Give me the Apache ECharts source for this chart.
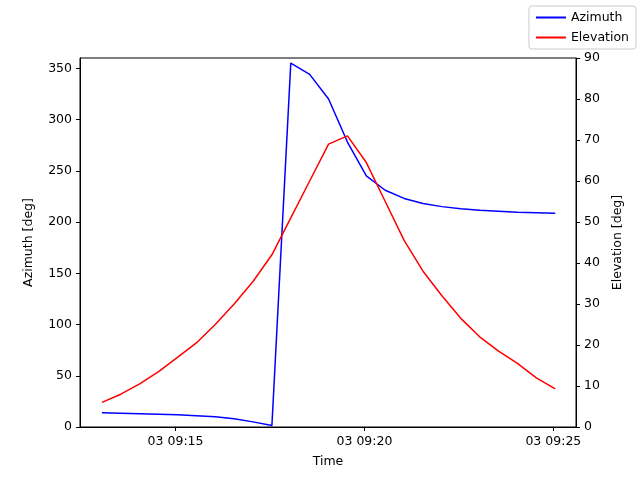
<!DOCTYPE html><html><head><meta charset="utf-8"><script src="https://cdn.jsdelivr.net/npm/echarts@6/dist/echarts.min.js"></script></head><body style="margin:0"><div id="c" style="width:640px;height:480px"></div><script>
// minutes after 09:00
const times=[];for(let i=0;i<25;i++)times.push(13.05+i*0.5);
const azimuth=[14,13.5,13,12.5,12,11,10,8,5,1.5,355,344,320,278,245,231,223,218,215,213,211.5,210.5,209.5,209,208.5];
const elevation=[6,8,10.5,13.5,17,20.5,25,30,35.5,42,51,60,69,71,64.5,55,45.5,38,32,26.5,22,18.5,15.5,12,9.3];
const tickMinutes=[15,20,25];
const ch=echarts.init(document.getElementById('c'));
const f={fontFamily:'DejaVu Sans',fontSize:12.5,color:'#000'};
const ax={axisLine:{show:true,lineStyle:{color:'#000'}},axisTick:{show:true,length:4,lineStyle:{color:'#000'}},splitLine:{show:false},axisLabel:f,nameTextStyle:f};
ch.setOption({animation:false,
grid:{left:80,right:64,top:58,bottom:53,show:true,borderColor:'#000',borderWidth:1,backgroundColor:'transparent'},
legend:{right:4,top:6,orient:'vertical',itemWidth:30,itemHeight:2,textStyle:f,backgroundColor:'#fff',borderColor:'#ccc',borderWidth:1,borderRadius:3,padding:[5,7],itemGap:7,data:['Azimuth','Elevation'],icon:'rect'},
xAxis:{type:'value',min:12.47,max:25.6,name:'Time',nameLocation:'middle',nameGap:28,...ax,
 axisTick:{show:true,length:4,lineStyle:{color:'#000'},customValues:tickMinutes},
 axisLabel:{...f,customValues:tickMinutes,formatter:v=>'03 09:'+String(Math.round(v)).padStart(2,'0')}},
yAxis:[{type:'value',min:0,max:360,interval:50,name:'Azimuth [deg]',nameLocation:'middle',nameGap:45,...ax,axisLabel:{...f,showMaxLabel:false}},
{type:'value',min:0,max:90,interval:10,name:'Elevation [deg]',nameLocation:'middle',nameGap:35,...ax}],
series:[{name:'Azimuth',type:'line',showSymbol:false,color:'#0000ff',lineStyle:{width:1.5},data:times.map((t,i)=>[t,azimuth[i]])},
{name:'Elevation',type:'line',yAxisIndex:1,showSymbol:false,color:'#ff0000',lineStyle:{width:1.5},data:times.map((t,i)=>[t,elevation[i]])}]});
</script></body></html>
